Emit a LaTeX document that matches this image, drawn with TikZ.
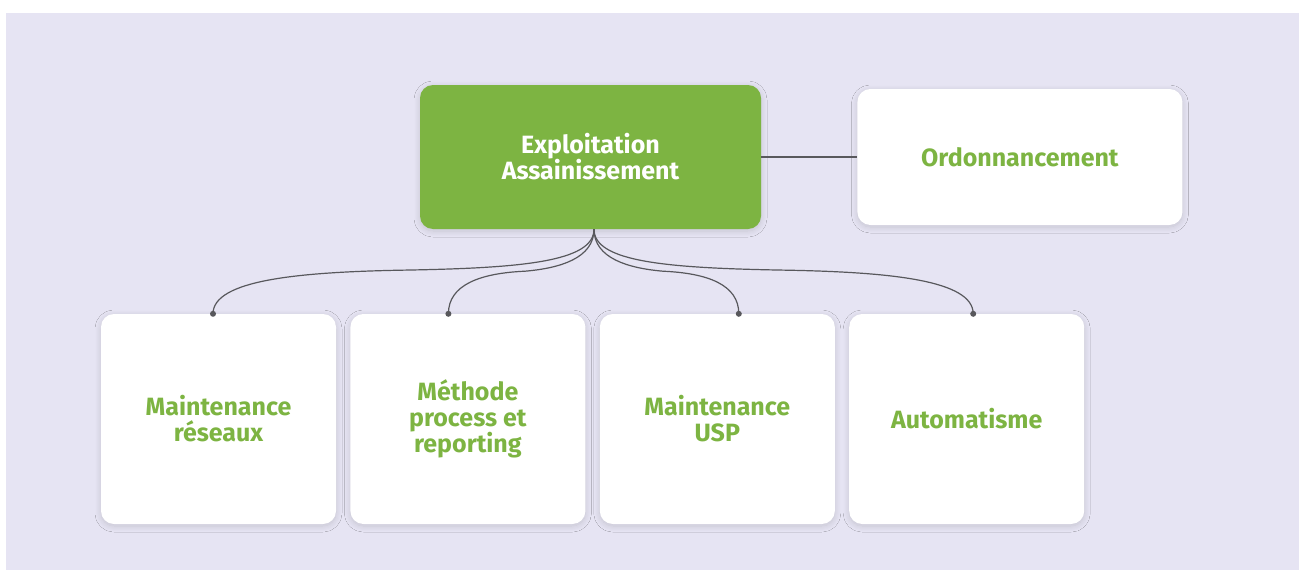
\documentclass[tikz,border=0pt]{standalone}
\usepackage{fontspec}
\setmainfont{Fira Sans}
\usetikzlibrary{positioning,calc,shadows.blur}
\definecolor{leafgreen}{RGB}{125,180,66}
\definecolor{lavender}{RGB}{230,228,243}
\definecolor{linegray}{RGB}{88,88,92}

\begin{document}
\begin{tikzpicture} [x=1pt, y=-1pt,
          card/.style={rounded corners=13pt, inner sep=0, align=center,
            font=\fontsize{25}{26}\selectfont\bfseries,
            blur shadow={shadow xshift=0pt, shadow yshift=-2pt,
              shadow blur radius=6pt, shadow blur steps=12, shadow opacity=14}},
          headbox/.style={card, fill=leafgreen, text=white,
            minimum width=341pt, minimum height=144pt},
          leafbox/.style={card, fill=white, text=leafgreen},
          subbox/.style={leafbox, minimum width=235pt, minimum height=210pt},
          link/.style={draw=linegray, line width=1.2pt},
          knot/.style={fill=linegray}]
          \useasboundingbox (0,0) rectangle (1299,570);
          \fill[lavender] (6,13) rectangle (1299,570);

          % top row
          \node[headbox] (expl) at (590.5,157) {Exploitation\\Assainissement};
          \node[leafbox, minimum width=325pt, minimum height=136pt,
            right=96pt of expl] (ordo) {Ordonnancement};

          % bottom row
          \node[subbox] (reseaux) at (218.5,419) {Maintenance\\réseaux};
          \node[subbox, right=14pt of reseaux] (methode) {Méthode\\process et\\reporting};
          \node[subbox, right=14pt of methode] (usp) {Maintenance\\USP};
          \node[subbox, right=14pt of usp] (auto) {Automatisme};

          \coordinate (fork) at ($(expl.south)+(3.5,0)$);
          \coordinate (d1) at ($(reseaux.north)+(-5.5,0)$);
          \coordinate (d2) at ($(methode.north)+(-19.5,0)$);
          \coordinate (d3) at ($(usp.north)+(21.5,0)$);
          \coordinate (d4) at ($(auto.north)+(6.5,0)$);
          \coordinate (m1) at ($(fork)+(-194,41)$);
          \coordinate (m2) at ($(fork)+(-69,42)$);
          \coordinate (m3) at ($(fork)+(69,42)$);
          \coordinate (m4) at ($(fork)+(194,41)$);

          \draw[link] (expl.east) -- (ordo.west);
          \draw[link] (fork) .. controls +(0,33) and +(120,-2) .. (m1)
            .. controls +(-100,2) and +(0,-34) .. (d1);
          \draw[link] (fork) .. controls +(0,29) and +(35,-3) .. (m2)
            .. controls +(-45,2) and +(0,-29) .. (d2);
          \draw[link] (fork) .. controls +(0,29) and +(-35,-3) .. (m3)
            .. controls +(45,2) and +(0,-29) .. (d3);
          \draw[link] (fork) .. controls +(0,33) and +(-120,-2) .. (m4)
            .. controls +(100,2) and +(0,-34) .. (d4);
          \foreach \d in {d1,d2,d3,d4}
            \fill[knot] (\d) circle (3pt);
        \end{tikzpicture}
\end{document}
